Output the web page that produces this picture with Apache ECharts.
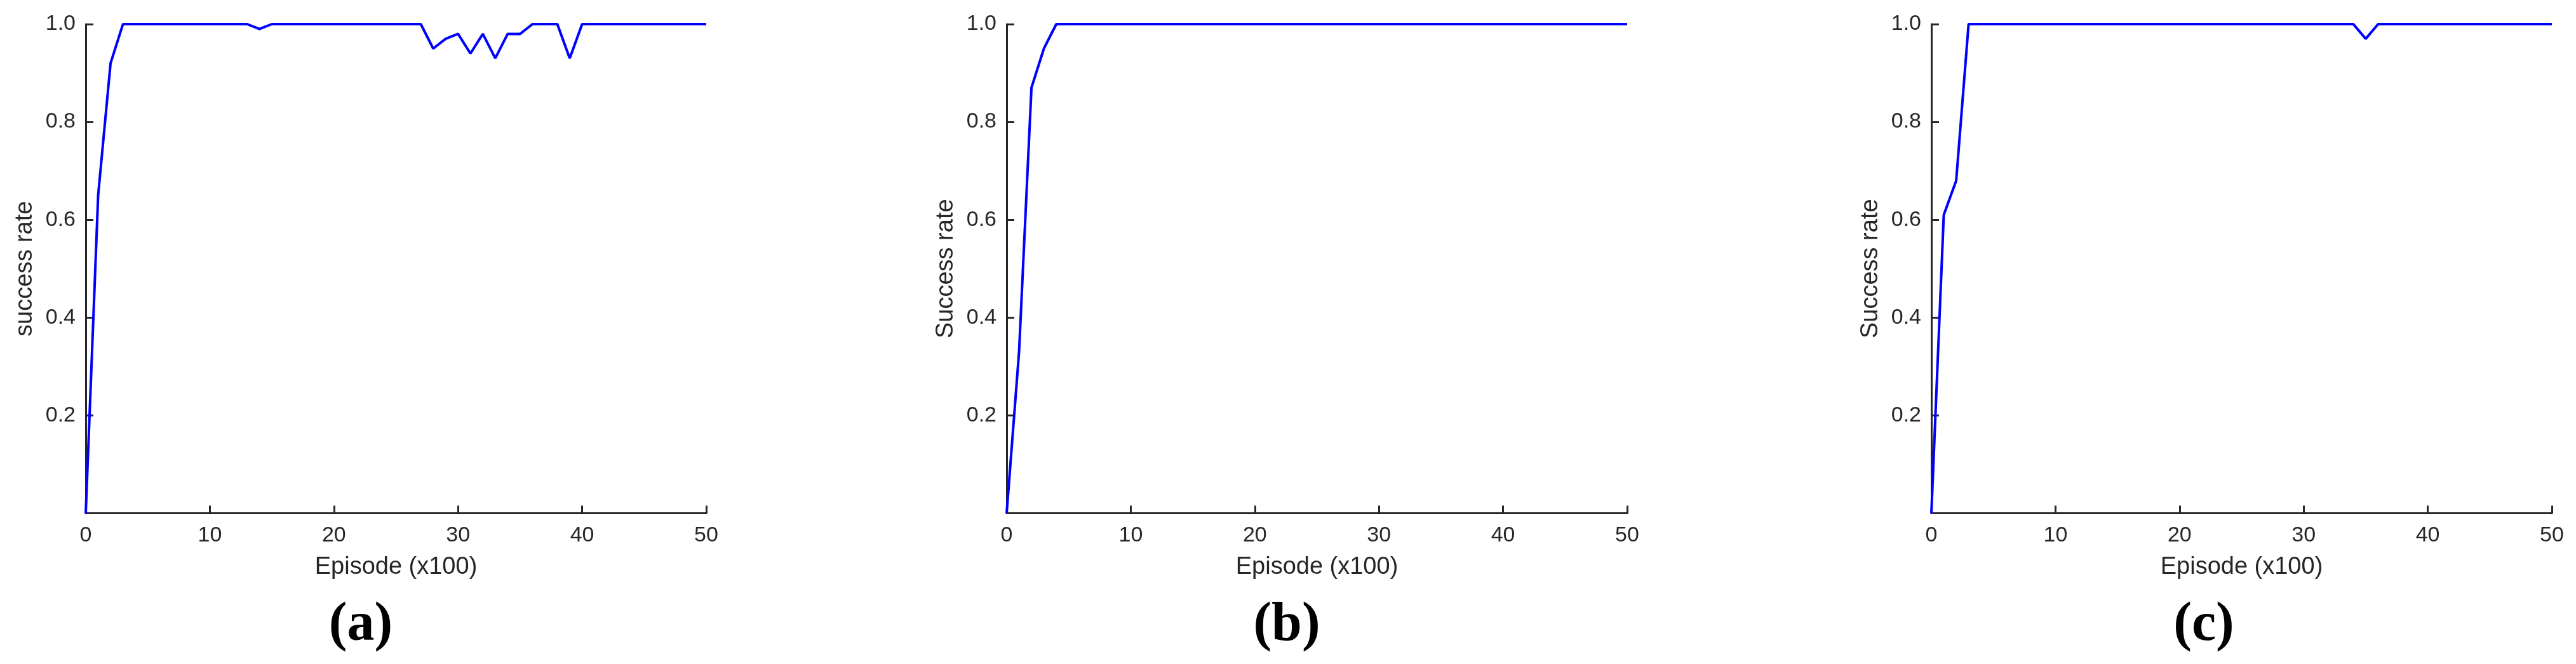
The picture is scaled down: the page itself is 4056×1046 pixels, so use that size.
<!DOCTYPE html>
<html>
<head>
<meta charset="utf-8">
<script src="https://cdn.jsdelivr.net/npm/echarts@6/dist/echarts.min.js"></script>
<style>
html,body{margin:0;padding:0;background:#fff;}
#chart{width:4056px;height:1046px;}
</style>
</head>
<body>
<div id="chart"></div>
<script>
// Episode index (x100)
const episodes = [0,1,2,3,4,5,6,7,8,9,10,11,12,13,14,15,16,17,18,19,20,21,22,23,24,25,26,27,28,29,30,31,32,33,34,35,36,37,38,39,40,41,42,43,44,45,46,47,48,49,50];
// (a) success rate
const rateA = [0,0.65,0.92,1,1,1,1,1,1,1,1,1,1,1,0.99,1,1,1,1,1,1,1,1,1,1,1,1,1,0.95,0.97,0.98,0.94,0.98,0.93,0.98,0.98,1,1,1,0.93,1,1,1,1,1,1,1,1,1,1,1];
// (b) success rate
const rateB = [0,0.33,0.87,0.95,1,1,1,1,1,1,1,1,1,1,1,1,1,1,1,1,1,1,1,1,1,1,1,1,1,1,1,1,1,1,1,1,1,1,1,1,1,1,1,1,1,1,1,1,1,1,1];
// (c) success rate
const rateC = [0,0.61,0.68,1,1,1,1,1,1,1,1,1,1,1,1,1,1,1,1,1,1,1,1,1,1,1,1,1,1,1,1,1,1,1,1,0.97,1,1,1,1,1,1,1,1,1,1,1,1,1,1,1];
const xTicks = [0,10,20,30,40,50];
const yTicks = [0.2,0.4,0.6,0.8,1.0];
const yTitles = ['success rate','Success rate','Success rate'];
const xTitle = 'Episode (x100)';
const captions = ['a','b','c'];

const panels = [rateA, rateB, rateC];
const gridLefts = [135, 1585, 3041];
const captionX = [568, 2026, 3470];
const axisColor = '#262626';
const sans = "'Liberation Sans', Arial, Helvetica, sans-serif";

const chart = echarts.init(document.getElementById('chart'), null, {renderer:'canvas'});
const option = {
  backgroundColor: '#ffffff',
  animation: false,
  grid: gridLefts.map(l => ({left: l, top: 38, width: 977, height: 770.5, containLabel: false})),
  xAxis: panels.map((_, i) => ({
    type: 'value', gridIndex: i, min: xTicks[0], max: xTicks[xTicks.length-1], interval: xTicks[1]-xTicks[0],
    name: xTitle, nameLocation: 'middle', nameGap: 66,
    nameTextStyle: {fontFamily: sans, fontSize: 38, color: axisColor},
    axisLine: {show: true, onZero: false, lineStyle: {color: axisColor, width: 3}},
    axisTick: {show: true, inside: true, length: 12, lineStyle: {color: axisColor, width: 3}},
    axisLabel: {fontFamily: sans, fontSize: 34, color: axisColor, margin: 18},
    splitLine: {show: false}
  })),
  yAxis: panels.map((_, i) => ({
    type: 'value', gridIndex: i, min: 0, max: yTicks[yTicks.length-1], interval: yTicks[0],
    name: yTitles[i], nameLocation: 'middle', nameGap: 76,
    nameTextStyle: {fontFamily: sans, fontSize: 38, color: axisColor},
    axisLine: {show: true, onZero: false, lineStyle: {color: axisColor, width: 3}},
    axisTick: {show: true, inside: true, length: 12, lineStyle: {color: axisColor, width: 3}},
    axisLabel: {fontFamily: sans, fontSize: 34, color: axisColor, margin: 16, showMinLabel: false,
      formatter: v => v.toFixed(1)},
    splitLine: {show: false}
  })),
  series: panels.map((vals, i) => ({
    type: 'line', xAxisIndex: i, yAxisIndex: i,
    data: episodes.map((e, k) => [e, vals[k]]),
    showSymbol: false, clip: false,
    lineStyle: {color: '#0000FF', width: 4},
    itemStyle: {color: '#0000FF'}
  })),
  title: captions.map((c, i) => ({
    text: '{p|(}{b|' + c + '}{p|)}',
    left: captionX[i], top: 941, textAlign: 'center', padding: 0,
    textStyle: {
      rich: {
        p: {fontFamily: "'Liberation Serif', 'Times New Roman', serif", fontSize: 86, color: '#000', lineHeight: 90},
        b: {fontFamily: "'Liberation Serif', 'Times New Roman', serif", fontSize: 86, fontWeight: 'bold', color: '#000', lineHeight: 90}
      }
    }
  }))
};
chart.setOption(option);
</script>
</body>
</html>
